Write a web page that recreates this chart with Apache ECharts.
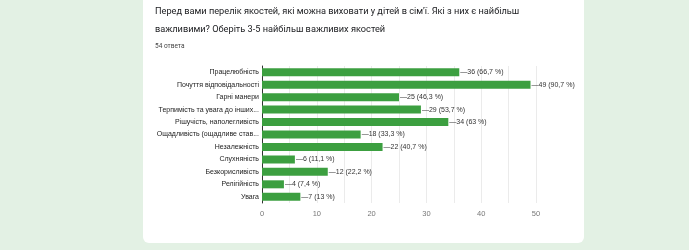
<!DOCTYPE html>
<html><head><meta charset="utf-8">
<script src="https://cdn.jsdelivr.net/npm/echarts@6/dist/echarts.min.js"></script>
<style>html,body{margin:0;padding:0;background:#e3f1e4;}#c{width:689px;height:250px;}</style>
</head><body><div id="c"></div>
<script>
const categories = ["Працелюбність","Почуття відповідальності","Гарні манери","Терпимість та увага до інших...","Рішучість, наполегливість","Ощадливість (ощадливе став...","Незалежність","Слухняність","Безкорисливість","Релігійність","Увага"];
const counts = [36,49,25,29,34,18,22,6,12,4,7];
const percents = ["66,7","90,7","46,3","53,7","63","33,3","40,7","11,1","22,2","7,4","13"];
const xTicks = [0,10,20,30,40,50];

const chart = echarts.init(document.getElementById('c'));
chart.setOption({
  backgroundColor: '#e3f1e4',
  animation: false,
  graphic: [{
    type: 'rect', shape: {x: 143, y: -10, width: 441, height: 253, r: 6},
    style: {fill: '#ffffff'}, z: -10
  }],
  title: {
    text: "Перед вами перелік якостей, які можна виховати у дітей в сім'ї. Які з них є найбільш\nважливими? Оберіть 3-5 найбільш важливих якостей",
    subtext: '54 ответа',
    left: 155, top: 3, padding: 0,
    itemGap: 2,
    textStyle: {fontFamily: 'Roboto, sans-serif', fontSize: 9.2, fontWeight: 'normal', color: '#202124', lineHeight: 18},
    subtextStyle: {fontFamily: 'Roboto, sans-serif', fontSize: 6.5, color: '#444', lineHeight: 10}
  },
  grid: {left: 262, right: 153, top: 66, bottom: 47},
  xAxis: {
    type: 'value', min: 0, max: 50, interval: 5,
    axisLine: {show: false}, axisTick: {show: false},
    splitLine: {lineStyle: {color: '#ebebeb', width: 1}},
    axisLabel: {
      fontFamily: 'Liberation Sans, Arial', fontSize: 7.5, color: '#777', margin: 7,
      formatter: v => xTicks.includes(v) ? String(v) : ''
    }
  },
  yAxis: {
    type: 'category', data: categories, inverse: true,
    axisLine: {show: true, lineStyle: {color: '#333', width: 1}},
    axisTick: {show: false},
    axisLabel: {fontFamily: 'Liberation Sans, Arial', fontSize: 7, color: '#222', margin: 3}
  },
  series: [{
    type: 'bar', data: counts, barWidth: 8,
    itemStyle: {color: '#3c9f40'},
    label: {
      show: true, position: 'right', distance: 1,
      fontFamily: 'Liberation Sans, Arial', fontSize: 7, color: '#333',
      formatter: p => '—' + counts[p.dataIndex] + ' (' + percents[p.dataIndex] + ' %)'
    }
  }]
});
</script></body></html>
